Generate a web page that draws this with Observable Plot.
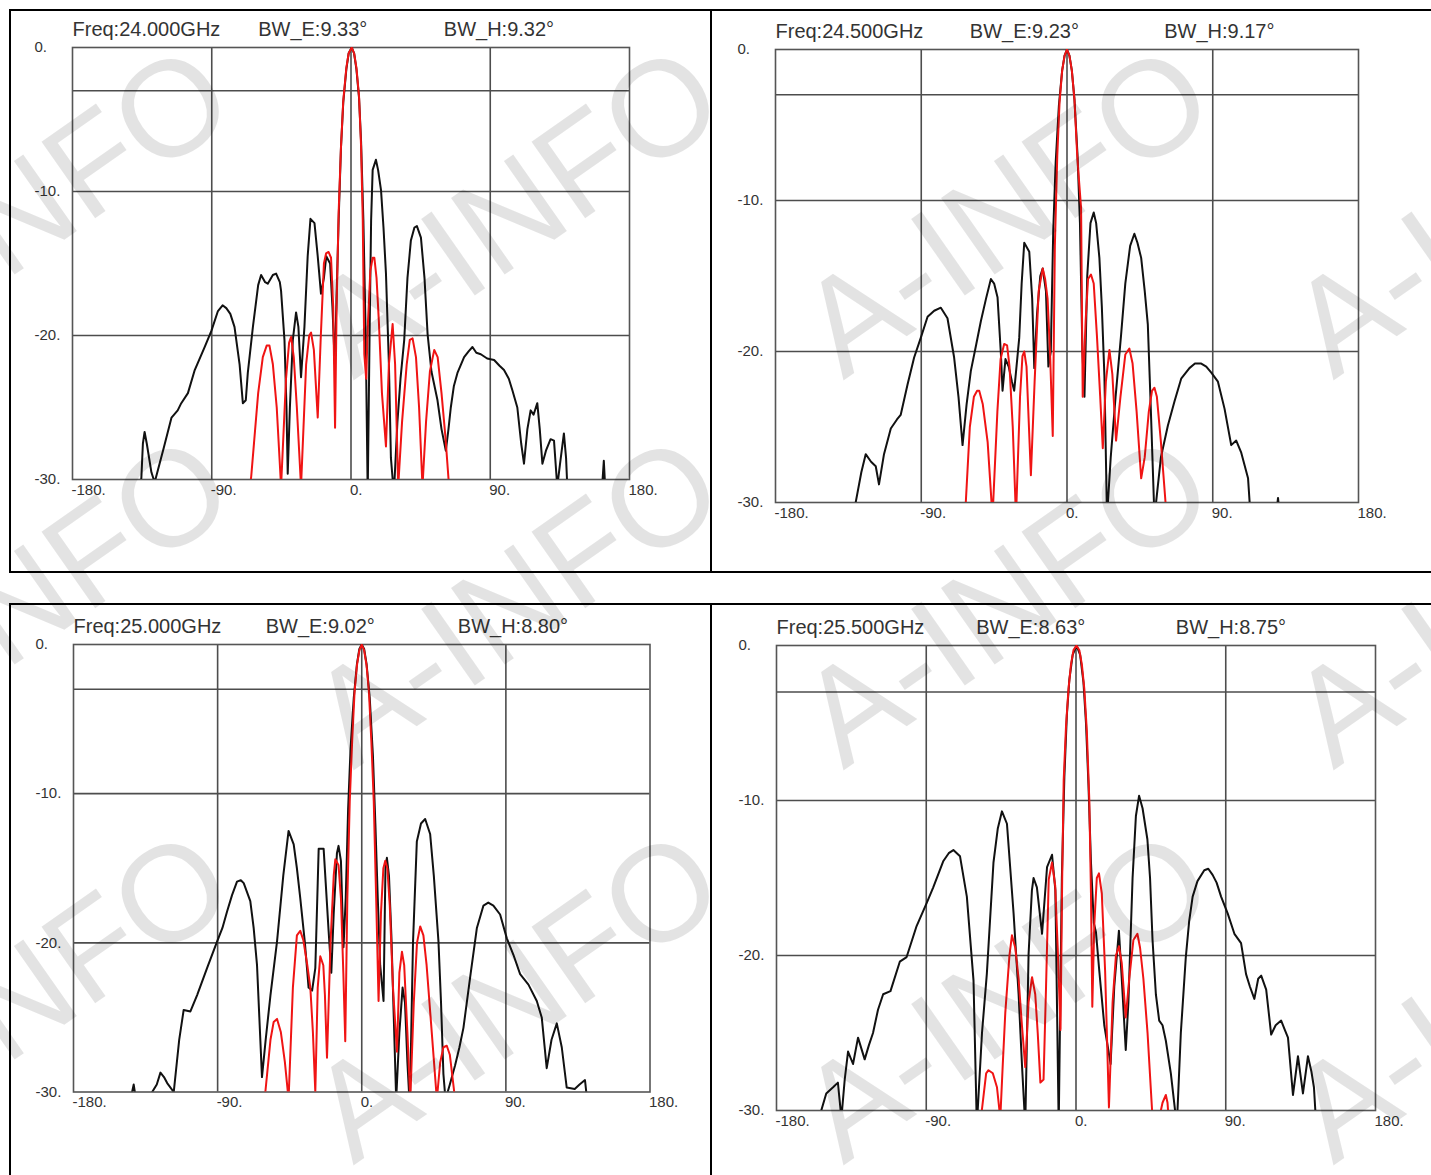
<!DOCTYPE html>
<html>
<head>
<meta charset="utf-8">
<script src="https://cdn.jsdelivr.net/npm/d3@7"></script>
<script src="https://cdn.jsdelivr.net/npm/@observablehq/plot@0.6"></script>
<style>
  html, body { margin: 0; padding: 0; background: #fff; }
  body { width: 1431px; height: 1175px; position: relative; overflow: hidden; font-family: "Liberation Sans", Arial, sans-serif; }
  .panel { position: absolute; }
  .bar { position: absolute; background: #000; }
  #wmlayer { position: absolute; left: 0; top: 0; width: 1431px; height: 1175px; overflow: hidden; pointer-events: none; }
  .wm { position: absolute; font-size: 136px; color: rgba(0,0,0,0.11); white-space: nowrap; pointer-events: none;
        transform: translate(-50%, -50%) rotate(-35deg); line-height: 1; font-family: "Liberation Sans", Arial, sans-serif; }
</style>
</head>
<body>
<script>
// ---------- data ----------
const angleTicks = [-180, -90, 0, 90, 180];
const dbTicks = [0, -10, -20, -30];
const gridAngles = [-90, 0, 90];
const gridDb = [-3, -10, -20];
const titleAngles = [-180, -60, 60];
const freqs = ["24.000", "24.500", "25.000", "25.500"];
const bwE = ["9.33", "9.23", "9.02", "8.63"];
const bwH = ["9.32", "9.17", "8.80", "8.75"];
const watermark = "A-INFO";

// E-plane (black) and H-plane (red) patterns, [angle deg, level dB]
const e24_0 = [[-137,-31],[-135.5,-29.9],[-134.5,-27.5],[-133.4,-26.7],[-132,-27.5],[-129,-29.5],[-126.9,-30.2],[-121,-27.8],[-116,-25.7],[-112,-25.2],[-109.7,-24.7],[-105.4,-24],[-101,-22.4],[-94.6,-20.8],[-90.3,-19.7],[-86,-18.3],[-83,-17.9],[-80.6,-18.1],[-78,-18.5],[-75.3,-19.4],[-72,-22],[-69.9,-24.7],[-68,-24.5],[-66.7,-22.6],[-63.4,-19.4],[-60,-16.5],[-58.1,-15.8],[-55.5,-16.3],[-53.8,-16.4],[-50.5,-15.8],[-48.4,-15.7],[-46,-16.3],[-45.2,-16.9],[-43,-20.3],[-41.7,-25],[-40.9,-29.6],[-39.5,-25],[-37.6,-20.3],[-35.5,-18.4],[-34,-19.4],[-32.3,-22.9],[-30.1,-19.4],[-28,-14.5],[-26.2,-11.9],[-23.6,-12.2],[-21.5,-14.5],[-19.4,-17.1],[-17.5,-16],[-16,-14.5],[-13.5,-15],[-12,-18],[-10.5,-22],[-9.5,-18],[-8,-12],[-6.5,-7],[-5,-3.8],[-3,-1.5],[-1.5,-0.4],[0.5,0],[2,-0.4],[3.5,-1.5],[5.2,-3.5],[6.5,-6.5],[8,-12],[9.5,-20],[10.8,-31],[12,-20],[13,-12],[14,-8.5],[16.1,-7.8],[17.5,-8.5],[19.4,-9.9],[21,-12.5],[22.6,-15.7],[24.5,-22],[25.8,-28.5],[27.7,-31],[30,-26],[32,-23],[34.4,-20.3],[36.5,-16],[38.7,-13.4],[41,-12.5],[42.6,-12.4],[45.2,-13.2],[47.5,-16],[49.5,-19.9],[52,-22.5],[55.9,-24.5],[58.5,-26.5],[61.3,-28],[63,-26.5],[64.5,-25],[66.5,-23.5],[68.8,-22.6],[73.1,-21.5],[76,-21.1],[78.5,-20.8],[81,-21.2],[83.9,-21.3],[88,-21.6],[92.5,-21.7],[96,-22.1],[98.9,-22.4],[102,-23],[104.3,-23.8],[107.5,-25],[110,-27.5],[111.8,-28.9],[114,-26.5],[116.1,-25.2],[118,-25.5],[120.4,-24.7],[122,-26.5],[123.7,-28.9],[126,-28],[129,-27.2],[131.2,-27.3],[133.3,-30.5],[135,-29],[137.6,-26.8],[139,-28.5],[140,-31],[162,-31],[163.4,-28.7],[164.5,-31]];
const h24_0 = [[-66,-31],[-64.5,-29.8],[-60,-24],[-57,-21.5],[-54.5,-20.7],[-52.7,-20.7],[-50.5,-22],[-48,-25],[-45.2,-30.5],[-42,-23],[-40,-20.5],[-38.7,-20.1],[-37,-21.5],[-35,-25],[-32.3,-30.5],[-29,-22],[-27,-20],[-25.8,-19.8],[-24,-21],[-21.5,-25.7],[-19.5,-20],[-17.5,-15],[-16.1,-14.3],[-14.5,-14.2],[-12.9,-14.6],[-11.5,-18],[-10.3,-26.4],[-9.3,-18],[-8,-11.5],[-6.5,-7],[-5,-3.7],[-3,-1.4],[-1.5,-0.4],[0.5,0],[2,-0.4],[3.5,-1.4],[5.2,-3.4],[6.5,-6.8],[7.6,-12],[8.6,-21.3],[9.8,-23],[11,-19],[12.5,-15.5],[14,-14.6],[15.1,-14.6],[16.5,-16],[18,-19],[20,-24],[22.6,-27.7],[24.5,-22],[26.9,-19.2],[28.5,-22],[30.5,-30.5],[33,-26],[36,-22],[38,-20.3],[39.8,-20.2],[42,-21.5],[44,-25],[46.2,-30.5],[48.5,-26],[51,-22.5],[53.8,-21],[56,-21.5],[58.5,-24],[61,-27],[63.4,-30.5]];

const e24_5 = [[-132,-31],[-130.5,-30],[-127,-28],[-124.3,-26.8],[-121,-27.3],[-118.1,-27.6],[-116.1,-28.8],[-113,-26.8],[-108.8,-25.1],[-105,-24.5],[-102.7,-24.2],[-98.5,-22.2],[-94.4,-20.4],[-90.3,-19.1],[-86.1,-17.7],[-82,-17.3],[-77.9,-17.1],[-73.8,-17.8],[-69.7,-20.4],[-67,-23],[-64.5,-26.2],[-62,-23.5],[-59.4,-21.3],[-56,-19.5],[-53.2,-18],[-50,-16.5],[-47,-15.2],[-45,-15.5],[-42.9,-16.4],[-40.8,-20.2],[-39.8,-22.6],[-38,-20.5],[-36,-21],[-34,-22],[-32.6,-22.6],[-29.5,-19.1],[-28,-15.5],[-26.4,-12.8],[-23.3,-13.4],[-21.5,-16.5],[-20.2,-21.1],[-18.5,-17.5],[-16.5,-15],[-15,-14.5],[-13,-16],[-11.5,-21],[-10,-20],[-8.5,-12],[-7,-7.5],[-5,-3.7],[-3,-1.4],[-1.5,-0.4],[0,0],[1.5,-0.4],[3,-1.4],[4.6,-3.3],[6.5,-7],[8,-11.5],[9.5,-20],[10.8,-23],[12.5,-15],[14.5,-11.5],[16.5,-10.8],[18,-11.5],[20,-13.8],[21.5,-17],[23.1,-21.6],[24.7,-31],[27,-27],[30,-23],[33.4,-18.9],[36,-15.5],[39,-13],[41.6,-12.2],[43.5,-12.8],[45.8,-13.8],[48,-16],[49.9,-18.2],[51.5,-23],[54,-31],[58,-27],[62.3,-24.9],[66.4,-23.3],[70.5,-21.8],[75.6,-21.1],[79,-20.8],[82.9,-20.8],[86,-21],[89.1,-21.4],[93.2,-22],[97.3,-23.8],[101.4,-26.2],[104.5,-25.9],[107.6,-26.7],[111.8,-28.4],[113.4,-31],[129,-31],[130.3,-29.7],[131.5,-31]];
const h24_5 = [[-64,-31],[-62.5,-30],[-60,-25],[-57.5,-23],[-55.5,-22.6],[-54.2,-22.6],[-52,-23.5],[-49,-26],[-46,-31],[-43,-24],[-41,-20.5],[-38.8,-19.5],[-37,-19.6],[-35.5,-21],[-33.5,-25],[-31.5,-31],[-29,-23],[-27.5,-20.3],[-26.4,-20],[-25,-21],[-22.3,-28.2],[-20,-22],[-17.5,-16],[-15,-14.5],[-13.5,-15.2],[-12,-16.5],[-10.5,-20],[-8.8,-25.6],[-7.5,-13],[-6,-7],[-4.6,-3.5],[-3,-1.4],[-1.5,-0.4],[0,0],[1.5,-0.4],[3,-1.4],[4.6,-3.3],[6.3,-7],[7.5,-8.8],[8.7,-10.5],[9.7,-23],[11.5,-18],[13,-15.2],[14.8,-14.9],[16.5,-15.5],[18.5,-19],[20.5,-23],[22.1,-26.4],[24,-22],[26.2,-19.9],[28,-21.5],[30.3,-25.9],[33,-23],[36,-20.2],[38.5,-19.8],[40.5,-20.8],[43,-24],[45.8,-28.4],[48,-27],[50.5,-24],[52.5,-22.6],[54,-22.4],[55.5,-23],[58,-26],[61.2,-30.5]];

const e25_0 = [[-145,-31],[-143.4,-30],[-142.4,-29.5],[-141,-30.5],[-138.2,-30.2],[-132,-30.2],[-128,-29.5],[-125.7,-28.7],[-123.5,-29],[-121.5,-29.4],[-117.4,-30],[-114,-26.5],[-111.2,-24.5],[-107,-24.6],[-102.8,-23.5],[-96.6,-21.7],[-90.3,-19.9],[-87,-19],[-84.1,-17.9],[-81,-16.8],[-77.9,-15.9],[-75.5,-15.8],[-73.7,-16],[-69.6,-17.2],[-67.5,-19],[-65.4,-21.5],[-62.3,-29],[-60,-26.5],[-57,-23.5],[-52.9,-19.9],[-49,-15.5],[-45.7,-12.5],[-42.5,-13.4],[-40.5,-15],[-38.4,-17],[-35.5,-20],[-33.2,-23],[-31,-23.2],[-29,-21.7],[-27.5,-16],[-26.9,-13.7],[-23.8,-13.7],[-22.5,-16],[-20.7,-19.2],[-19,-22],[-17.5,-18],[-15.5,-14],[-14.5,-13.5],[-13,-14.5],[-11.4,-20.3],[-10,-17],[-8.5,-11],[-7,-7],[-5,-3.6],[-3,-1.3],[-1.5,-0.3],[0,0],[1.5,-0.3],[3,-1.3],[5,-3.6],[7,-7.5],[8.5,-12],[10,-17],[11.5,-21.5],[13.6,-23.9],[14.8,-15],[15.7,-14.3],[17,-15.5],[18.5,-19.5],[20,-25],[21.5,-30.5],[23.5,-26],[25.5,-23],[27,-24],[28.5,-28],[30,-31],[32,-20],[34.4,-13.2],[37,-12],[39.6,-11.7],[42.7,-12.7],[45,-15.5],[47.9,-19.9],[49.5,-24],[51,-28.8],[52.3,-30.5],[55,-29.5],[58.3,-28.2],[61,-27],[63.5,-25.7],[67.7,-22.3],[71.9,-19],[76,-17.5],[79,-17.3],[82.2,-17.5],[86.4,-18.1],[90.6,-19.7],[94.7,-20.8],[98.9,-22.1],[104.1,-22.8],[109.3,-23.9],[112.4,-25],[115.5,-28.4],[118.5,-26.5],[121.8,-25.4],[124.9,-27],[128,-29.7],[133,-29.8],[136,-29.5],[139.4,-29.2],[140.7,-30.5]];
const h25_0 = [[-62,-31],[-60.2,-30],[-57,-26.5],[-55,-25.3],[-52.9,-25.1],[-50.5,-26],[-48,-28],[-45.7,-30.5],[-43,-23],[-40.5,-19.5],[-38.4,-19.2],[-36.5,-19.8],[-34,-21.5],[-32.1,-23],[-30.5,-26],[-29,-30],[-27.5,-23],[-25.9,-20.9],[-24,-21.5],[-23,-23.5],[-21.7,-27.7],[-19.5,-20],[-17.5,-15.5],[-16.5,-14.4],[-14.5,-14.8],[-13,-17],[-11.5,-22],[-10.3,-26.6],[-9,-17],[-7.5,-10.5],[-6,-6.5],[-4.5,-3.2],[-3,-1.4],[-1.5,-0.4],[0,0],[1.5,-0.4],[3,-1.4],[4.5,-3.2],[6,-6.5],[7.5,-10.5],[9,-17],[10.5,-23.9],[12,-18],[13.5,-15],[14.7,-14.5],[16,-15],[17.5,-17.5],[19.5,-23],[22,-27.3],[23.5,-22],[25.1,-20.6],[26.5,-21.5],[28.5,-26],[30.3,-30.5],[32.5,-24],[34.5,-20],[36.5,-18.9],[38.5,-19.5],[40.5,-21.5],[43,-25],[46.9,-30.5],[49,-28],[51,-27],[53.1,-26.9],[55,-27.5],[58.3,-30.5]];

const e25_5 = [[-155,-31],[-153.1,-30],[-150.1,-28.9],[-146,-28.5],[-143.1,-28.2],[-141,-30.5],[-139,-28],[-137,-26.2],[-134,-27],[-131,-25.3],[-127,-26.7],[-124.5,-25.8],[-122,-25],[-119,-23.5],[-115.9,-22.5],[-111.5,-22.3],[-105.9,-20.4],[-101.8,-20.1],[-95.8,-18.1],[-89.7,-16.6],[-85.8,-15.6],[-79.7,-13.9],[-76.5,-13.4],[-73.7,-13.2],[-69.7,-13.6],[-65.6,-16.2],[-61.6,-21.6],[-59.6,-31],[-56.5,-25],[-53.6,-21.2],[-49.6,-14],[-47,-11.8],[-44.5,-10.7],[-41.5,-11.5],[-37.5,-17.3],[-34.5,-22.5],[-32.4,-27.2],[-30.5,-31],[-28.5,-19.9],[-26.5,-15.8],[-25.5,-15],[-23.5,-15.6],[-20.4,-18.6],[-17.4,-14.3],[-14.4,-13.5],[-12.4,-15.8],[-10.4,-31],[-8.5,-15],[-7,-8.5],[-5.5,-4.5],[-4,-2.2],[-2,-0.6],[0.3,0],[2.5,-0.6],[4.5,-2.4],[6,-5],[7.5,-9],[9,-14],[10.7,-17.9],[12,-18.5],[14,-21],[17,-24.5],[20.8,-27],[23,-22],[25.8,-18.4],[27.5,-21.5],[29.9,-26.1],[31.5,-23],[34,-15],[36,-11],[37.9,-9.7],[40,-10.5],[42.9,-12.5],[44.5,-15],[46,-19],[48,-22.5],[50,-24.2],[52,-24.5],[54,-25.5],[57,-27.6],[60.6,-31],[63,-25],[66,-20.1],[68,-17.8],[70.1,-16.2],[73,-15.2],[77.1,-14.5],[79.5,-14.4],[82.1,-14.8],[84.5,-15.3],[87.2,-16.2],[91.2,-17.3],[95.2,-18.6],[99.2,-19.2],[102.2,-21.2],[104.5,-22],[107.2,-22.8],[109.5,-21.5],[111.3,-21.3],[114.3,-22.2],[117.3,-25.1],[120,-24.5],[123.3,-24.2],[125.5,-24.8],[127.4,-25.3],[130.4,-29],[133.4,-26.5],[136.4,-28.9],[139.4,-26.5],[141.5,-27.5],[143,-28.5],[144.4,-31]];
const h25_5 = [[-58,-31],[-56.6,-30],[-54,-27.6],[-52.6,-27.4],[-50,-27.6],[-47.5,-28.5],[-45.5,-30.5],[-44,-27],[-42.5,-23.7],[-40,-20],[-38.5,-18.7],[-36.5,-19.5],[-34.5,-21.5],[-32.5,-24.5],[-30.5,-27.2],[-28.5,-23],[-26.4,-21.4],[-24.5,-22.5],[-23,-25],[-21.4,-28.2],[-19.5,-28],[-18,-22],[-16.4,-15.1],[-14.4,-14],[-12.5,-15.5],[-11,-19.5],[-9.3,-24.8],[-8.3,-15],[-7.4,-8.7],[-6,-5.2],[-4.5,-2.8],[-3,-1.2],[-1.5,-0.3],[0.3,0],[2,-0.3],[3.5,-1.2],[5,-2.8],[6.5,-5.5],[8,-10],[9,-16],[9.8,-23.3],[11,-18],[12.5,-15],[13.8,-14.7],[15.5,-16],[17.5,-21],[19.8,-29.8],[22,-23],[24,-20],[25.8,-19.4],[27.5,-20.5],[29.9,-24],[32,-21.5],[34.5,-19],[36.9,-18.6],[38.5,-19.5],[40.5,-21.5],[43,-25],[46,-30.5],[50,-30.5],[52,-29.5],[54,-29],[55,-29.5],[56,-31]];

const seriesE = [e24_0, e24_5, e25_0, e25_5];
const seriesH = [h24_0, h24_5, h25_0, h25_5];

// ---------- layout ----------
const panels = [
  {box: [10, 10, 701, 562],   frame: [72, 629, 47, 479]},
  {box: [711, 10, 720, 562],  frame: [775, 1358, 49, 502]},
  {box: [10, 604, 701, 571],  frame: [73, 649.5, 644, 1091.5]},
  {box: [711, 604, 720, 571], frame: [776, 1375, 645, 1110]}
];
const bars = [
  [10, 9, 1421, 2], [9, 9, 2, 564], [710, 9, 2, 564], [10, 571, 1421, 2],
  [10, 603, 1421, 2], [9, 603, 2, 572], [710, 603, 2, 572]
];

const font = "'Liberation Sans', Arial, Helvetica, sans-serif";
const ink = "#333";

panels.forEach((p, i) => {
  const [bx, by, bw, bh] = p.box;
  const [fx0, fx1, fy0, fy1] = p.frame;
  const titles = [`Freq:${freqs[i]}GHz`, `BW_E:${bwE[i]}°`, `BW_H:${bwH[i]}°`];
  const chart = Plot.plot({
    width: bw, height: bh,
    marginLeft: fx0 - bx, marginRight: bx + bw - fx1,
    marginTop: fy0 - by, marginBottom: by + bh - fy1,
    x: {domain: [-180, 180], axis: null},
    y: {domain: [-30, 0], axis: null},
    style: {fontFamily: font, background: "transparent", overflow: "visible", color: ink},
    marks: [
      Plot.ruleX(gridAngles, {x: d => d, stroke: "#4d4d4d", strokeWidth: 1.6}),
      Plot.ruleY(gridDb, {y: d => d, stroke: "#4d4d4d", strokeWidth: 1.6}),
      Plot.frame({stroke: "#555", strokeWidth: 1.6}),
      Plot.line(seriesE[i], {x: d => d[0], y: d => d[1], stroke: "#111", strokeWidth: 2, clip: true}),
      Plot.line(seriesH[i], {x: d => d[0], y: d => d[1], stroke: "#f01414", strokeWidth: 2, clip: true}),
      Plot.text(dbTicks, {y: d => d, frameAnchor: "left", lineAnchor: "middle", text: d => d + ".", textAnchor: "start", dx: -38, dy: 0, fontSize: 15, fill: ink}),
      Plot.text(angleTicks, {x: d => d, frameAnchor: "bottom", lineAnchor: "middle", text: d => d + ".", textAnchor: "start", dx: -1, dy: 10.5, fontSize: 15, fill: ink}),
      Plot.text(titles, {x: (d, j) => titleAngles[j], frameAnchor: "top", lineAnchor: "middle", text: d => d, textAnchor: "start", dy: -17.5, fontSize: 20, fill: ink})
    ]
  });
  chart.classList.add("panel");
  chart.style.left = bx + "px";
  chart.style.top = by + "px";
  document.body.appendChild(chart);
});

bars.forEach(([l, t, w, h]) => {
  const d = document.createElement("div");
  d.className = "bar";
  Object.assign(d.style, {left: l + "px", top: t + "px", width: w + "px", height: h + "px"});
  document.body.appendChild(d);
});

// watermark tiles
const layer = document.createElement("div");
layer.id = "wmlayer";
document.body.appendChild(layer);
const wmX = [25, 515, 1005, 1495];
const wmY = [210, 600, 995];
wmY.forEach(y => wmX.forEach(x => {
  const d = document.createElement("div");
  d.className = "wm";
  d.textContent = watermark;
  d.style.left = x + "px";
  d.style.top = y + "px";
  layer.appendChild(d);
}));
</script>
</body>
</html>
